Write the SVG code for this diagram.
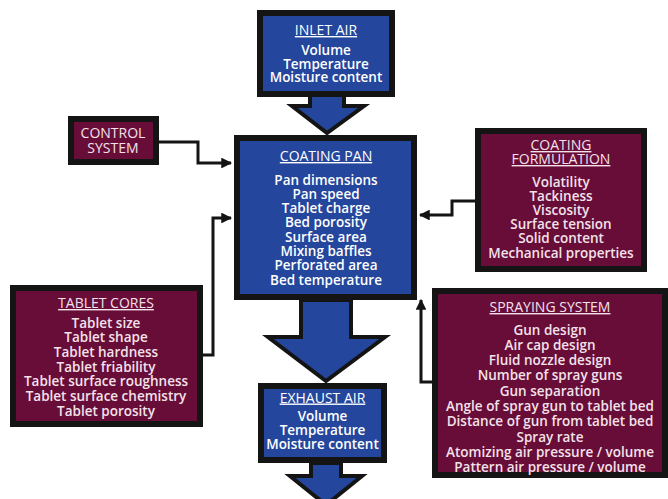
<svg xmlns="http://www.w3.org/2000/svg" width="668" height="499" viewBox="0 0 668 499">
<style>
.blue{fill:#24469c;stroke:#141414;stroke-width:6}
.mar{fill:#680c38;stroke:#141414;stroke-width:6}
.arr{fill:#24469c;stroke:#141414;stroke-width:4;stroke-linejoin:miter}
.wt{font-family:"Open Sans","Liberation Sans",sans-serif;font-size:13.5px;font-weight:600;fill:#ffffff;text-anchor:middle}
.pt{font-family:"Open Sans","Liberation Sans",sans-serif;font-size:13.5px;font-weight:600;fill:#f3e2ea;text-anchor:middle}
.hd{text-decoration:underline;font-weight:400;font-size:14px}
.con{fill:none;stroke:#141414;stroke-width:3;stroke-linejoin:miter}
</style>
<defs>
<marker id="ah" viewBox="0 0 10 10" refX="9" refY="5" markerWidth="3.6" markerHeight="3.6" orient="auto" markerUnits="strokeWidth">
<path d="M0,0 L10,5 L0,10 z" fill="#141414"/>
</marker>
</defs>
<rect width="668" height="499" fill="#ffffff"/>

<g id="connectors">
<polyline class="con" points="159,142 198,142 198,163 231,163" marker-end="url(#ah)"/>
<polyline class="con" points="203,355 213,355 213,218 231,218" marker-end="url(#ah)"/>
<polyline class="con" points="475,201 452,201 452,215 420,215" marker-end="url(#ah)"/>
<polyline class="con" points="432,382 421,382 421,300" marker-end="url(#ah)"/>
</g>

<g id="arrows">
<polygon class="arr" points="310,94 344,94 344,106 364,106 327,133 292,106 310,106"/>
<polygon class="arr" points="301,300 351,300 351,337 385,337 326,381 268,337 301,337"/>
<polygon class="arr" points="311,463 341,463 341,476 362,476 326,505 290,476 311,476"/>
</g>

<g id="inlet-air">
<rect class="blue" x="260" y="13" width="132" height="81"/>
<text class="wt hd" x="326" y="35">INLET AIR</text>
<text class="wt" x="326" y="55">Volume</text>
<text class="wt" x="326" y="68.5">Temperature</text>
<text class="wt" x="326" y="82">Moisture content</text>
</g>

<g id="control-system">
<rect class="mar" x="71" y="119" width="85" height="43"/>
<text class="pt" x="113" y="138" style="font-weight:400;font-size:14px">CONTROL</text>
<text class="pt" x="113" y="153" style="font-weight:400;font-size:14px">SYSTEM</text>
</g>

<g id="coating-pan">
<rect class="blue" x="237" y="138" width="177" height="159"/>
<text class="wt hd" x="326" y="161">COATING PAN</text>
<text class="wt" x="326" y="184.5">Pan dimensions</text>
<text class="wt" x="326" y="198.8">Pan speed</text>
<text class="wt" x="326" y="213.1">Tablet charge</text>
<text class="wt" x="326" y="227.4">Bed porosity</text>
<text class="wt" x="326" y="241.7">Surface area</text>
<text class="wt" x="326" y="256">Mixing baffles</text>
<text class="wt" x="326" y="270.3">Perforated area</text>
<text class="wt" x="326" y="284.6">Bed temperature</text>
</g>

<g id="coating-formulation">
<rect class="mar" x="478" y="131" width="166" height="138"/>
<text class="pt hd" x="561" y="150">COATING</text>
<text class="pt hd" x="561" y="164">FORMULATION</text>
<text class="pt" x="561" y="186.5">Volatility</text>
<text class="pt" x="561" y="200.7">Tackiness</text>
<text class="pt" x="561" y="214.9">Viscosity</text>
<text class="pt" x="561" y="229.1">Surface tension</text>
<text class="pt" x="561" y="243.3">Solid content</text>
<text class="pt" x="561" y="257.5">Mechanical properties</text>
</g>

<g id="tablet-cores">
<rect class="mar" x="13" y="288" width="187" height="136"/>
<text class="pt hd" x="106" y="308">TABLET CORES</text>
<text class="pt" x="106" y="327.5">Tablet size</text>
<text class="pt" x="106" y="342.2">Tablet shape</text>
<text class="pt" x="106" y="356.9">Tablet hardness</text>
<text class="pt" x="106" y="371.6">Tablet friability</text>
<text class="pt" x="106" y="386.3">Tablet surface roughness</text>
<text class="pt" x="106" y="401">Tablet surface chemistry</text>
<text class="pt" x="106" y="415.7">Tablet porosity</text>
</g>

<g id="spraying-system">
<rect class="mar" x="435" y="291" width="230" height="184"/>
<text class="pt hd" x="550" y="312">SPRAYING SYSTEM</text>
<text class="pt" x="550" y="334.5">Gun design</text>
<text class="pt" x="550" y="349.8">Air cap design</text>
<text class="pt" x="550" y="365.1">Fluid nozzle design</text>
<text class="pt" x="550" y="380.4">Number of spray guns</text>
<text class="pt" x="550" y="395.7">Gun separation</text>
<text class="pt" x="550" y="411">Angle of spray gun to tablet bed</text>
<text class="pt" x="550" y="426.3">Distance of gun from tablet bed</text>
<text class="pt" x="550" y="441.6">Spray rate</text>
<text class="pt" x="550" y="456.9">Atomizing air pressure / volume</text>
<text class="pt" x="550" y="472.2">Pattern air pressure / volume</text>
</g>

<g id="exhaust-air">
<rect class="blue" x="261" y="386" width="123" height="74"/>
<text class="wt hd" x="322.5" y="402.5">EXHAUST AIR</text>
<text class="wt" x="322.5" y="420.5">Volume</text>
<text class="wt" x="322.5" y="434.5">Temperature</text>
<text class="wt" x="322.5" y="448.5">Moisture content</text>
</g>
</svg>
